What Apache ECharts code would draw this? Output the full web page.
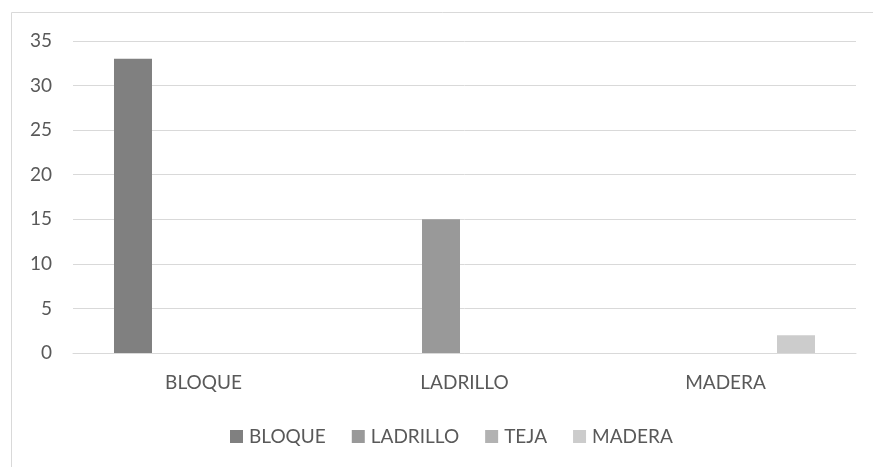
<!DOCTYPE html>
<html><head><meta charset="utf-8">
<script src="https://cdn.jsdelivr.net/npm/echarts@6/dist/echarts.min.js"></script>
<style>html,body{margin:0;padding:0;background:#fff}#c{width:873px;height:467px}</style>
</head><body><div id="c"></div>
<script>
const categories = ['BLOQUE', 'LADRILLO', 'MADERA'];
const seriesNames = ['BLOQUE', 'LADRILLO', 'TEJA', 'MADERA'];
const bloque = [33, 0, 0];
const ladrillo = [0, 15, 0];
const teja = [0, 0, 0];
const madera = [0, 0, 2];
const yTicks = [0, 5, 10, 15, 20, 25, 30, 35];
const colors = ['#808080', '#999999', '#b2b2b2', '#cccccc'];
const values = [bloque, ladrillo, teja, madera];

const chart = echarts.init(document.getElementById('c'));
const font = 'Lato, "Open Sans", sans-serif';
chart.setOption({
  animation: false,
  textStyle: {fontFamily: font},
  graphic: [{type: 'rect', shape: {x: 11.5, y: 12.5, width: 900, height: 500}, style: {fill: 'none', stroke: '#d9d9d9', lineWidth: 1}, silent: true}],
  grid: {left: 73, right: 17, top: 41, bottom: 114},
  legend: {
    data: seriesNames, top: 422, left: 225, itemWidth: 13, itemHeight: 13, itemGap: 26,
    icon: 'rect', textStyle: {color: '#595959', fontSize: 19, fontFamily: font, padding: [0, 0, 0, 1]}
  },
  xAxis: {
    type: 'category', data: categories,
    axisLine: {lineStyle: {color: '#d9d9d9', width: 1}},
    axisTick: {show: false},
    axisLabel: {color: '#595959', fontSize: 19, margin: 20, fontFamily: font}
  },
  yAxis: {
    type: 'value', min: yTicks[0], max: yTicks[yTicks.length - 1], interval: 5,
    axisLine: {show: false}, axisTick: {show: false},
    splitLine: {lineStyle: {color: '#d9d9d9', width: 1}},
    axisLabel: {color: '#595959', fontSize: 19, margin: 21, fontFamily: font}
  },
  series: seriesNames.map((n, i) => ({
    name: n, type: 'bar', data: values[i], barWidth: 38, barGap: '23.7%',
    itemStyle: {color: colors[i]}
  }))
});
</script></body></html>
